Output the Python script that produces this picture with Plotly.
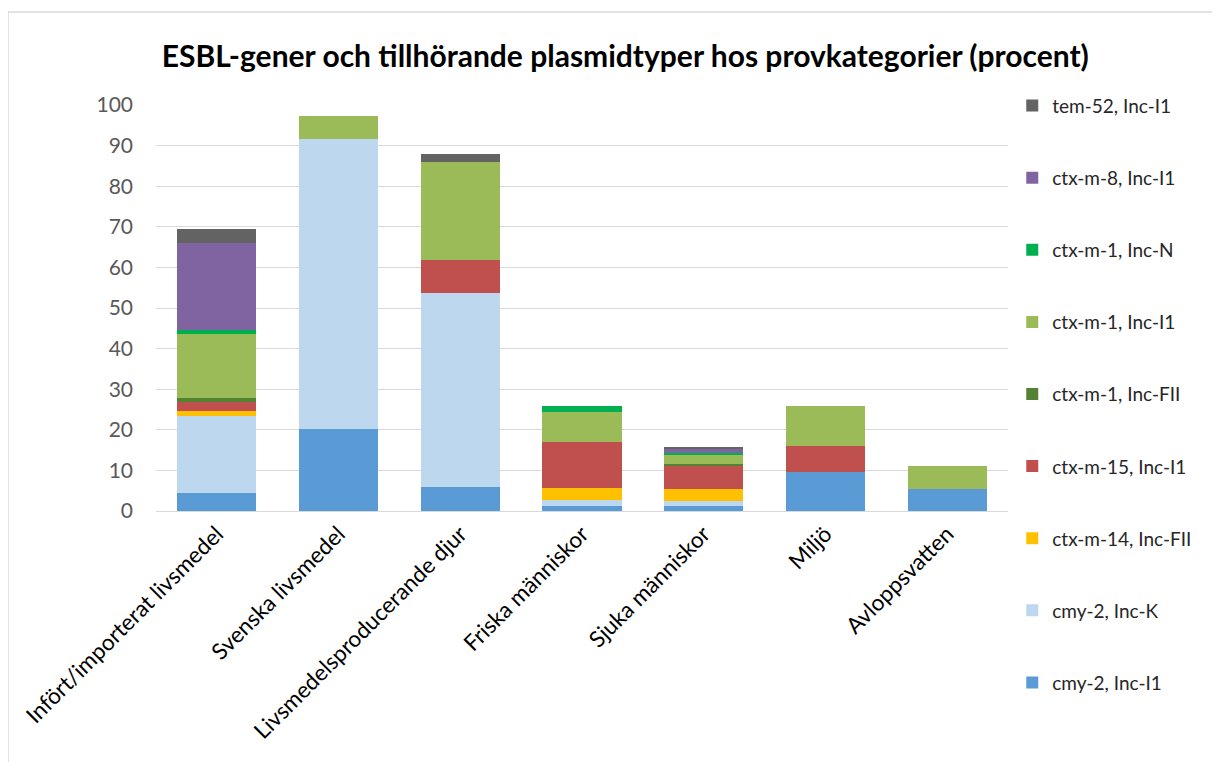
import plotly.graph_objects as go

categories = ["Infört/importerat livsmedel", "Svenska livsmedel", "Livsmedelsproducerande djur",
              "Friska människor", "Sjuka människor", "Miljö", "Avloppsvatten"]

# one list per gene / plasmid type, in stacking order (bottom first)
cmy2_i1 = [4.4, 20.2, 5.8, 1.3, 1.2, 9.6, 5.5]
cmy2_k = [19.1, 71.4, 48.0, 1.4, 1.3, 0, 0]
ctxm14_fii = [1.1, 0, 0, 2.9, 2.9, 0, 0]
ctxm15_i1 = [2.2, 0, 8.0, 11.5, 5.8, 6.5, 0]
ctxm1_fii = [1.0, 0, 0, 0, 0.5, 0, 0]
ctxm1_i1 = [15.8, 5.6, 24.1, 7.3, 2.3, 9.8, 5.6]
ctxm1_n = [1.1, 0, 0, 1.5, 0.4, 0, 0]
ctxm8_i1 = [21.3, 0, 0, 0, 1.0, 0, 0]
tem52_i1 = [3.4, 0, 2.0, 0, 0.3, 0, 0]

series = [
    ("cmy-2, Inc-I1", cmy2_i1, "#5B9BD5"),
    ("cmy-2, Inc-K", cmy2_k, "#BDD7EE"),
    ("ctx-m-14, Inc-FII", ctxm14_fii, "#FFC000"),
    ("ctx-m-15, Inc-I1", ctxm15_i1, "#C0504D"),
    ("ctx-m-1, Inc-FII", ctxm1_fii, "#548235"),
    ("ctx-m-1, Inc-I1", ctxm1_i1, "#9BBB59"),
    ("ctx-m-1, Inc-N", ctxm1_n, "#00B050"),
    ("ctx-m-8, Inc-I1", ctxm8_i1, "#8064A2"),
    ("tem-52, Inc-I1", tem52_i1, "#636363"),
]

fig = go.Figure()
for i, (name, vals, col) in enumerate(series):
    # legend lists the top of the stack first
    fig.add_trace(go.Bar(x=categories, y=vals, name=name, legendgroup=name,
                         legendrank=100 - i,
                         marker=dict(color=col, line=dict(width=0))))

font = "Lato, Calibri, Carlito, sans-serif"
fig.update_layout(
    barmode="stack",
    bargap=0.35,
    width=1220, height=762,
    margin=dict(l=148, r=220, t=97, b=259),
    plot_bgcolor="white", paper_bgcolor="white",
    font=dict(family=font, size=19, color="#595959"),
    title=dict(text="<b>ESBL-gener och tillhörande plasmidtyper hos provkategorier (procent)</b>",
               x=0.506, xanchor="center", y=0.936, yanchor="middle",
               font=dict(size=30, color="black", family=font)),
    legend=dict(traceorder="grouped", tracegroupgap=44.4, x=1.005, xanchor="left",
                y=1.045, yanchor="top", font=dict(size=19, color="#262626"),
                itemwidth=30, maxheight=720),
    xaxis=dict(tickangle=-45, showline=True, linecolor="#d9d9d9", linewidth=1,
               tickfont=dict(size=22.5, color="black")),
    yaxis=dict(range=[0, 100], dtick=10, gridcolor="#d9d9d9", gridwidth=1,
               zeroline=False, tickfont=dict(size=21, color="#595959"), ticklabelstandoff=22),
    shapes=[dict(type="rect", xref="paper", yref="paper", x0=-0.1737, x1=1.243,
                 y0=-0.62, y1=1.229, line=dict(color="#d9d9d9", width=1.5), layer="below")],
)

fig.write_html("out.html")
